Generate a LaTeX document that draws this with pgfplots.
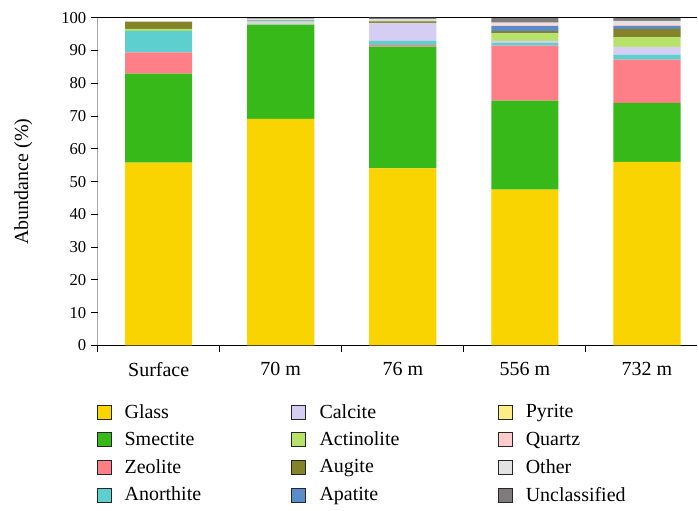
\documentclass[border=0pt]{standalone}
\usepackage{fontspec}
\setmainfont{Liberation Serif}
\usepackage{pgfplots}
\pgfplotsset{compat=1.18}
\usepackage{pgfplotstable}
\usetikzlibrary{calc}

\definecolor{cGlass}{HTML}{F9D400}
\definecolor{cSmectite}{HTML}{38B91A}
\definecolor{cZeolite}{HTML}{FF7F89}
\definecolor{cAnorthite}{HTML}{5ECFCF}
\definecolor{cCalcite}{HTML}{D6CDF2}
\definecolor{cActinolite}{HTML}{B7E26A}
\definecolor{cAugite}{HTML}{84832A}
\definecolor{cApatite}{HTML}{5A8BCB}
\definecolor{cPyrite}{HTML}{FBEE86}
\definecolor{cQuartz}{HTML}{FFCCCC}
\definecolor{cOther}{HTML}{E3E3E3}
\definecolor{cUnclassified}{HTML}{7F7B7B}

% Mineral abundance (%) per sampling depth
\pgfplotstableread{
x Glass Smectite Zeolite Anorthite Calcite Actinolite Augite Apatite Pyrite Quartz Other Unclassified
0 55.8 27.1 6.5 6.6 0.0 0.6 2.2 0.0 0.0 0.0 0.0 0.0
1 69.1 28.8 0.0 0.0 0.6 0.4 0.0 0.3 0.0 0.0 0.4 0.2
2 54.0 37.2 0.4 1.3 5.5 0.0 0.4 0.2 0.3 0.0 0.3 0.4
3 47.5 27.2 16.8 0.8 0.6 2.3 0.7 1.5 0.0 0.5 0.6 1.4
4 56.0 18.0 13.2 1.5 2.4 3.0 2.5 0.9 0.0 0.5 1.0 0.9
}\minerals

\begin{document}
\begin{tikzpicture}
\begin{axis}[
  name=ax,
  scale only axis,
  width=450pt, height=246pt,
  ybar stacked,
  bar width=0.55,
  xmin=-0.5, xmax=4.41,
  ymin=0, ymax=100,
  axis line style={draw=none},
  tick align=outside,
  xtick pos=lower, ytick pos=left,
  major tick length=5pt,
  tick style={black, line width=0.7pt},
  ytick={0,10,...,100},
  xtick={-0.5,0.5,1.5,2.5,3.5},
  xticklabels={},
  extra x ticks={0,1,2,3,4},
  extra x tick labels={Surface,70 m,76 m,556 m,732 m},
  extra x tick style={major tick length=0pt, tick label style={yshift=-9pt, font=\fontsize{15}{17}\selectfont}},
  tick label style={font=\fontsize{12.5}{14}\selectfont},
  /pgf/number format/assume math mode=true,
  ylabel={Abundance (\%)},
  every axis y label/.style={at={(axis description cs:-0.124,0.5)}, rotate=90, anchor=center, font=\fontsize{15}{17}\selectfont},
  legend columns=4,
  transpose legend,
  legend cell align=left,
  legend style={
    draw=none, fill=none,
    at={(axis description cs:0,0)}, anchor=north west,
    yshift=-40pt, xshift=-4pt,
    font=\fontsize{15}{17}\selectfont,
    row sep=4.8pt,
  },
  legend image code/.code={\draw[#1, draw=black!85, line width=0.6pt] (0pt,-5.25pt) rectangle (10.5pt,5.25pt);
    \path (18.75pt,0pt);},
  every axis plot/.append style={draw=none},
]
\addplot[fill=cGlass] table[x=x, y=Glass] {\minerals};
\addplot[fill=cSmectite] table[x=x, y=Smectite] {\minerals};
\addplot[fill=cZeolite] table[x=x, y=Zeolite] {\minerals};
\addplot[fill=cAnorthite] table[x=x, y=Anorthite] {\minerals};
\addplot[fill=cCalcite] table[x=x, y=Calcite] {\minerals};
\addplot[fill=cActinolite] table[x=x, y=Actinolite] {\minerals};
\addplot[fill=cAugite] table[x=x, y=Augite] {\minerals};
\addplot[fill=cApatite] table[x=x, y=Apatite] {\minerals};
\addplot[fill=cPyrite] table[x=x, y=Pyrite] {\minerals};
\addplot[fill=cQuartz] table[x=x, y=Quartz] {\minerals};
\addplot[fill=cOther] table[x=x, y=Other] {\minerals};
\addplot[fill=cUnclassified] table[x=x, y=Unclassified] {\minerals};
\legend{\makebox[123.3pt][l]{Glass},\makebox[123.3pt][l]{Smectite},\makebox[123.3pt][l]{Zeolite},\makebox[123.3pt][l]{Anorthite},
        \makebox[131.8pt][l]{Calcite},\makebox[131.8pt][l]{Actinolite},\makebox[131.8pt][l]{Augite},\makebox[131.8pt][l]{Apatite},
        Pyrite,Quartz,Other,Unclassified}
% frame: left, bottom and top lines only
\draw[black, line width=0.8pt] (rel axis cs:0,1) -- (rel axis cs:0,0) -- (rel axis cs:1,0);
\draw[black, line width=1pt] (rel axis cs:0,1) -- (rel axis cs:1,1);
\end{axis}
\pgfresetboundingbox
\path[use as bounding box] ($(ax.south west)+(-73.3pt,-124pt)$) rectangle ($(ax.north east)+(0.75pt,13.3pt)$);
\end{tikzpicture}
\end{document}
